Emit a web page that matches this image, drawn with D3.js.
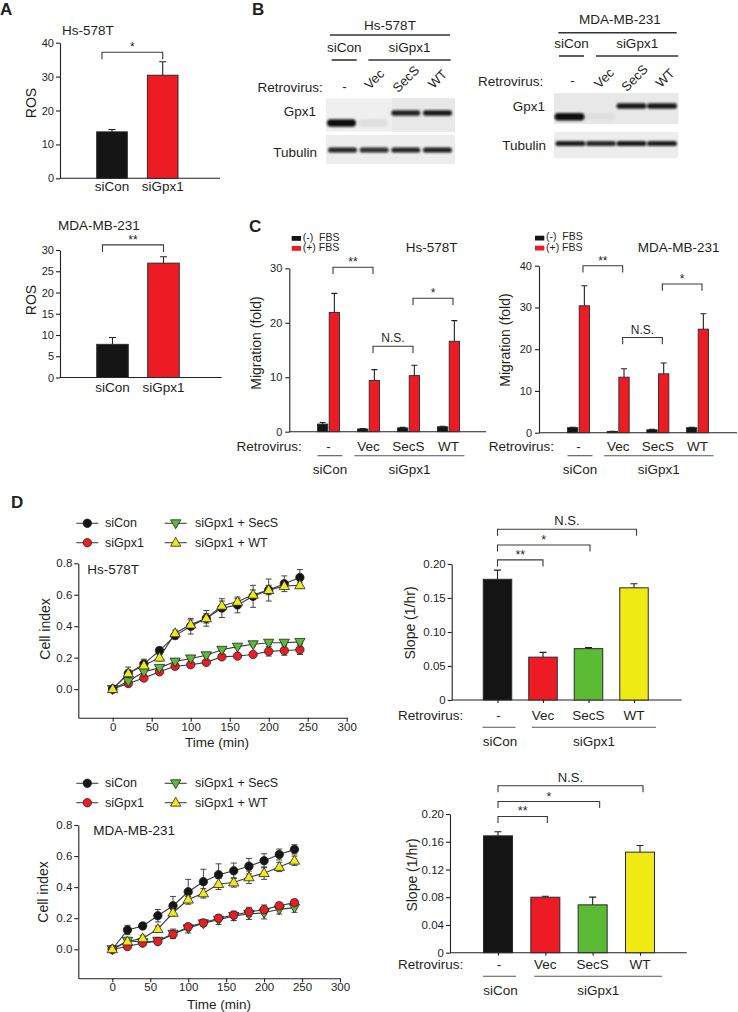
<!DOCTYPE html>
<html><head><meta charset="utf-8">
<script src="https://cdn.jsdelivr.net/npm/d3@7"></script>
<style>
body{margin:0;background:#fff;}
svg{display:block;font-family:"Liberation Sans",Arial,Helvetica,sans-serif;}
</style></head><body>
<svg id="fig" width="738" height="1012"></svg>
<script>
// ================= DATA =================
// Panel A: ROS
const rosCats = ["siCon", "siGpx1"];
const rosHs = [13.7, 30.4];
const rosHsErr = [0.7, 4.0];
const rosMda = [7.8, 26.9];
const rosMdaErr = [1.6, 1.5];
const rosHsTicks = [0, 10, 20, 30, 40];
const rosMdaTicks = [0, 5, 10, 15, 20, 25, 30];

// Panel B: western blots (relative band intensity per lane)
const laneLabels = ["-", "Vec", "SecS", "WT"];
const gpx1Form = ["endo", "endo", "exo", "exo"];
const gpx1Hs = [1.0, 0.07, 0.9, 0.95];
const tubHs = [0.9, 0.85, 0.9, 0.92];
const gpx1Mda = [1.0, 0.04, 0.95, 0.95];
const tubMda = [0.92, 0.88, 0.95, 0.92];

// Panel C: migration
const migGroups = ["-", "Vec", "SecS", "WT"];
const migHsNeg = [1.4, 0.5, 0.7, 0.9];
const migHsNegErr = [0.3, 0.1, 0.1, 0.1];
const migHsPos = [21.9, 9.4, 10.3, 16.6];
const migHsPosErr = [3.5, 2.0, 1.9, 3.8];
const migMdaNeg = [1.2, 0.3, 0.7, 1.2];
const migMdaNegErr = [0.1, 0.05, 0.1, 0.1];
const migMdaPos = [30.4, 13.3, 14.1, 24.8];
const migMdaPosErr = [4.8, 2.0, 2.6, 3.7];
const migHsTicks = [0, 10, 20, 30];
const migMdaTicks = [0, 10, 20, 30, 40];

// Panel D: cell index time course
const timePts = [0, 20, 40, 60, 80, 100, 120, 140, 160, 180, 200, 220, 240];
const lineXTicks = [0, 50, 100, 150, 200, 250, 300];
const lineYTicks = [0, 0.2, 0.4, 0.6, 0.8];
const seriesNames = ["siCon", "siGpx1", "siGpx1 + SecS", "siGpx1 + WT"];

const hsSiCon     = [0, 0.10, 0.16, 0.245, 0.34, 0.40, 0.45, 0.515, 0.535, 0.59, 0.63, 0.67, 0.71];
const hsSiConErr  = [0, 0.04, 0.03, 0.02, 0.02, 0.05, 0.05, 0.06, 0.05, 0.07, 0.07, 0.05, 0.05];
const hsSiGpx1    = [0, 0.035, 0.07, 0.11, 0.145, 0.155, 0.17, 0.205, 0.21, 0.22, 0.24, 0.245, 0.25];
const hsSiGpx1Err = [0, 0.01, 0.01, 0.01, 0.01, 0.01, 0.01, 0.01, 0.01, 0.015, 0.03, 0.03, 0.03];
const hsSecS      = [0, 0.05, 0.11, 0.135, 0.175, 0.195, 0.215, 0.25, 0.27, 0.285, 0.295, 0.295, 0.30];
const hsSecSErr   = [0, 0.01, 0.02, 0.01, 0.01, 0.01, 0.01, 0.01, 0.01, 0.01, 0.01, 0.01, 0.01];
const hsWT        = [0, 0.10, 0.15, 0.20, 0.355, 0.41, 0.45, 0.53, 0.555, 0.60, 0.63, 0.655, 0.66];
const hsWTErr     = [0, 0.02, 0.02, 0.02, 0.02, 0.03, 0.03, 0.03, 0.02, 0.03, 0.03, 0.02, 0.02];

const mdaSiCon     = [0, 0.124, 0.15, 0.216, 0.28, 0.37, 0.435, 0.48, 0.505, 0.535, 0.57, 0.61, 0.643];
const mdaSiConErr  = [0, 0.03, 0.02, 0.04, 0.06, 0.08, 0.08, 0.07, 0.05, 0.05, 0.045, 0.035, 0.03];
const mdaSiGpx1    = [0, 0.018, 0.04, 0.05, 0.095, 0.145, 0.17, 0.20, 0.22, 0.24, 0.255, 0.28, 0.30];
const mdaSiGpx1Err = [0, 0.01, 0.01, 0.02, 0.02, 0.02, 0.02, 0.02, 0.02, 0.03, 0.03, 0.02, 0.02];
const mdaSecS      = [0, 0.055, 0.045, 0.055, 0.10, 0.135, 0.167, 0.19, 0.215, 0.227, 0.235, 0.257, 0.268];
const mdaSecSErr   = [0, 0.01, 0.01, 0.02, 0.03, 0.03, 0.02, 0.03, 0.03, 0.035, 0.04, 0.03, 0.03];
const mdaWT        = [0, 0.05, 0.07, 0.13, 0.235, 0.32, 0.36, 0.42, 0.43, 0.463, 0.49, 0.53, 0.57];
const mdaWTErr     = [0, 0.02, 0.02, 0.02, 0.02, 0.02, 0.03, 0.035, 0.03, 0.04, 0.04, 0.03, 0.03];

// Panel D: slopes
const slopeCats = ["-", "Vec", "SecS", "WT"];
const slopeHs = [0.1775, 0.063, 0.0755, 0.165];
const slopeHsErr = [0.0135, 0.007, 0.0015, 0.006];
const slopeMda = [0.1685, 0.080, 0.069, 0.145];
const slopeMdaErr = [0.006, 0.0015, 0.0112, 0.0095];
const slopeHsTicks = [0, 0.05, 0.10, 0.15, 0.20];
const slopeMdaTicks = [0, 0.04, 0.08, 0.12, 0.16, 0.20];

// ================= STYLE =================
const INK = "#231f20";
const FONT = '"Liberation Sans", Arial, Helvetica, sans-serif';
const BLACK = "#141414", RED = "#ed1c24", GREEN = "#5cbb34", YELLOW = "#f0ea14";
const seriesColors = [BLACK, RED, GREEN, YELLOW];
const seriesSymbols = ["circle", "circle", "down", "up"];

const svg = d3.select("#fig");
svg.append("rect").attr("width", 738).attr("height", 1012).attr("fill", "#fff");
const defs = svg.append("defs");
defs.append("filter").attr("id", "blur").attr("x", "-20%").attr("y", "-60%").attr("width", "140%").attr("height", "220%")
  .append("feGaussianBlur").attr("stdDeviation", 1.1);

function txt(g, x, y, s, size, anchor, weight) {
  return g.append("text").attr("x", x).attr("y", y).text(s)
    .attr("font-size", size || 13).attr("text-anchor", anchor || "start")
    .attr("font-weight", weight || null).attr("fill", INK).style("white-space", "pre");
}
function vtitle(g, cx, cy, s, size) {
  g.append("text").attr("transform", `translate(${cx},${cy}) rotate(-90)`)
    .attr("text-anchor", "middle").attr("dy", "0.35em").attr("font-size", size || 13.5)
    .attr("fill", INK).text(s);
}
function styleAxis(ax, size) {
  ax.attr("font-family", FONT).attr("font-size", size || 11);
  ax.selectAll("path,line").attr("stroke", INK).attr("stroke-width", 1.1);
  ax.selectAll("text").attr("fill", INK);
}
function hline(g, x1, x2, y, w, col) {
  g.append("line").attr("x1", x1).attr("x2", x2).attr("y1", y).attr("y2", y)
    .attr("stroke", col || INK).attr("stroke-width", w || 1.1);
}
function errUp(g, x, yv, ye, cap) {
  g.append("path").attr("d", `M${x},${yv}V${ye}M${x - cap / 2},${ye}H${x + cap / 2}`)
    .attr("stroke", INK).attr("stroke-width", 1.1).attr("fill", "none");
}
function bracket(g, x1, x2, y, drop, label, stars, size) {
  g.append("path").attr("d", `M${x1},${y + drop}V${y}H${x2}V${y + drop}`)
    .attr("fill", "none").attr("stroke", "#3a3a3a").attr("stroke-width", 1.1);
  txt(g, (x1 + x2) / 2, stars ? y - 1 : y - 4, label, size || (stars ? 12 : 12), "middle");
}

// ================= PANEL LABELS =================
txt(svg, 0, 15, "A", 17, "start", "bold");
txt(svg, 252, 15, "B", 17, "start", "bold");
txt(svg, 249, 232, "C", 17, "start", "bold");
txt(svg, 11, 508, "D", 17, "start", "bold");

// ================= PANEL A =================
function rosPanel(cfg) {
  const g = svg.append("g");
  const y = d3.scaleLinear().domain([0, d3.max(cfg.ticks)]).range([cfg.y0, cfg.yTop]);
  const x = d3.scalePoint().domain(rosCats).range(cfg.centers);
  const ax = g.append("g").attr("transform", `translate(${cfg.axisX},0)`)
    .call(d3.axisLeft(y).tickValues(cfg.ticks).tickFormat(d3.format("d")).tickSize(4).tickSizeOuter(0).tickPadding(2));
  styleAxis(ax, 11);
  hline(g, cfg.axisX, cfg.axisEnd, cfg.y0);
  const cols = [BLACK, RED];
  rosCats.forEach((c, i) => {
    g.append("rect").attr("x", x(c) - cfg.bw / 2).attr("width", cfg.bw)
      .attr("y", y(cfg.vals[i])).attr("height", y(0) - y(cfg.vals[i]))
      .attr("fill", cols[i]).attr("stroke", "#2a2a2a").attr("stroke-width", 1);
    errUp(g, x(c), y(cfg.vals[i]), y(cfg.vals[i] + cfg.errs[i]), 7);
    txt(g, x(c), cfg.labelY, c, 13.5, "middle");
  });
  bracket(g, x(rosCats[0]) - 10, x(rosCats[1]), y(cfg.sigLevel), 7, cfg.sig, true);
  txt(g, cfg.titleX, cfg.titleY, cfg.title, 13.5);
  vtitle(g, 31.5, cfg.yTitle, "ROS", 14);
}
rosPanel({ vals: rosHs, errs: rosHsErr, ticks: rosHsTicks, y0: 178.3, yTop: 42.7, axisX: 60, axisEnd: 220,
  centers: [112, 162.7], bw: 30.6, labelY: 191, sigLevel: 37.2, sig: "*", title: "Hs-578T", titleX: 62, titleY: 35, yTitle: 103 });
rosPanel({ vals: rosMda, errs: rosMdaErr, ticks: rosMdaTicks, y0: 377.5, yTop: 250, axisX: 60, axisEnd: 221.7,
  centers: [112.5, 163.5], bw: 31.5, labelY: 392, sigLevel: 31.2, sig: "**", title: "MDA-MB-231", titleX: 58, titleY: 230, yTitle: 300 });

// ================= PANEL B =================
function blotPanel(cfg) {
  const g = svg.append("g");
  const lane = d3.scalePoint().domain(laneLabels).range(cfg.laneRange);
  txt(g, cfg.cellX, cfg.cellY, cfg.cell, 13.5, "middle");
  hline(g, cfg.cellLine[0], cfg.cellLine[1], cfg.cellLine[2], 1.6, "#333");
  txt(g, (cfg.conLine[0] + cfg.conLine[1]) / 2, cfg.grpY, "siCon", 13.5, "middle");
  txt(g, (cfg.gpxLine[0] + cfg.gpxLine[1]) / 2, cfg.grpY, "siGpx1", 13.5, "middle");
  hline(g, cfg.conLine[0], cfg.conLine[1], cfg.grpLineY, 1.6, "#333");
  hline(g, cfg.gpxLine[0], cfg.gpxLine[1], cfg.grpLineY, 1.6, "#333");
  txt(g, cfg.retroX, cfg.retroY, "Retrovirus:", 13.5, "end");
  laneLabels.forEach((l, i) => {
    if (i === 0) txt(g, lane(l) + 2, cfg.retroY - 1, l, 13.5, "middle");
    else g.append("text").attr("transform", `translate(${lane(l) + cfg.rotShift},${cfg.rotY}) rotate(-45)`)
      .attr("text-anchor", "middle").attr("dy", "0.35em").attr("font-size", 13).attr("fill", INK).text(l);
  });
  // blot boxes
  const bx = cfg.box;
  g.append("rect").attr("x", bx[0]).attr("width", bx[1] - bx[0]).attr("y", cfg.gpxBox[0]).attr("height", cfg.gpxBox[1] - cfg.gpxBox[0]).attr("fill", "#efefef");
  g.append("rect").attr("x", cfg.split).attr("width", bx[1] - cfg.split).attr("y", cfg.gpxBox[0]).attr("height", cfg.gpxBox[1] - cfg.gpxBox[0]).attr("fill", "#e8e8e8");
  g.append("rect").attr("x", bx[0]).attr("width", bx[1] - bx[0]).attr("y", cfg.tubBox[0]).attr("height", cfg.tubBox[1] - cfg.tubBox[0]).attr("fill", "#ededed");
  const bw = cfg.bandW;
  cfg.gpx.forEach((v, i) => {
    const endo = gpx1Form[i] === "endo";
    const yc = endo ? cfg.endoY : cfg.exoY;
    const h = endo ? 7.5 : 5.5;
    g.append("rect").attr("x", lane(laneLabels[i]) - bw / 2 + (endo ? -1 : 0)).attr("width", bw)
      .attr("y", yc - h / 2).attr("height", h).attr("rx", h / 2)
      .attr("fill", "#0a0a0a").attr("opacity", v).attr("filter", "url(#blur)");
  });
  cfg.tub.forEach((v, i) => {
    g.append("rect").attr("x", lane(laneLabels[i]) - bw / 2).attr("width", bw)
      .attr("y", cfg.tubY - 2.6).attr("height", 5.2).attr("rx", 2.6)
      .attr("fill", "#0a0a0a").attr("opacity", v).attr("filter", "url(#blur)");
  });
  txt(g, cfg.labX, cfg.gpxLabY, "Gpx1", 13.5, "end");
  txt(g, cfg.labX + 1, cfg.tubLabY, "Tubulin", 13.5, "end");
}
blotPanel({ laneRange: [342.5, 437.5], cell: "Hs-578T", cellX: 390, cellY: 30, cellLine: [330, 450, 35],
  conLine: [331.7, 356.7], gpxLine: [368.3, 450.7], grpY: 52, grpLineY: 60, retroX: 322.7, retroY: 92,
  rotShift: 0, rotY: 79, box: [326, 455], split: 392, gpxBox: [98.3, 131.7], tubBox: [135, 164],
  bandW: 29, endoY: 123, exoY: 113, tubY: 150, gpx: gpx1Hs, tub: tubHs, labX: 316, gpxLabY: 116, tubLabY: 157 });
blotPanel({ laneRange: [570.5, 662], cell: "MDA-MB-231", cellX: 620, cellY: 24, cellLine: [558.3, 676.7, 32.7],
  conLine: [559, 584], gpxLine: [596, 678.3], grpY: 48, grpLineY: 56, retroX: 543.3, retroY: 86,
  rotShift: 3, rotY: 78, box: [554, 678.3], split: 554, gpxBox: [93.3, 124], tubBox: [131.7, 158.3],
  bandW: 30, endoY: 116.7, exoY: 106, tubY: 143.5, gpx: gpx1Mda, tub: tubMda, labX: 545, gpxLabY: 111, tubLabY: 150 });

// ================= PANEL C =================
function migPanel(cfg) {
  const g = svg.append("g");
  const y = d3.scaleLinear().domain([0, d3.max(cfg.ticks)]).range([cfg.y0, cfg.yTop]);
  const gx = d3.scalePoint().domain(migGroups).range(cfg.groupRange);
  const sub = d3.scaleBand().domain(["neg", "pos"]).range([-11, 11]).paddingInner(0.12);
  const ax = g.append("g").attr("transform", `translate(${cfg.axisX},0)`)
    .call(d3.axisLeft(y).tickValues(cfg.ticks).tickFormat(d3.format("d")).tickSize(4).tickSizeOuter(0).tickPadding(3));
  styleAxis(ax, 11);
  hline(g, cfg.axisX, cfg.axisEnd, cfg.y0);
  migGroups.forEach((grp, i) => {
    [["neg", cfg.neg, cfg.negErr, BLACK], ["pos", cfg.pos, cfg.posErr, RED]].forEach(([k, vals, errs, col]) => {
      const x0 = gx(grp) + sub(k);
      g.append("rect").attr("x", x0).attr("width", sub.bandwidth())
        .attr("y", y(vals[i])).attr("height", y(0) - y(vals[i]))
        .attr("fill", col).attr("stroke", "#2a2a2a").attr("stroke-width", 0.9);
      errUp(g, x0 + sub.bandwidth() / 2, y(vals[i]), y(vals[i] + errs[i]), 6);
    });
    txt(g, gx(grp), 450.5, grp, 13.5, "middle");
  });
  cfg.sigs.forEach(s => bracket(g, gx(s[0]) + 4.5, gx(s[1]) + 4.5, y(s[2]), 6.7, s[3], s[3] !== "N.S.", s[3] === "N.S." ? 12 : 12));
  txt(g, cfg.retroX, 450.5, "Retrovirus:", 13.5, "end");
  const first = gx(migGroups[0]), second = gx(migGroups[1]), last = gx(migGroups[3]);
  hline(g, first - 11, first + 14, 455.7, 1.1, "#555");
  hline(g, second - 14, last + 16, 455.7, 1.1, "#555");
  txt(g, first + 1.5, 474, "siCon", 13.5, "middle");
  txt(g, (second - 14 + last + 16) / 2, 474, "siGpx1", 13.5, "middle");
  // legend
  const lg = cfg.legend;
  g.append("rect").attr("x", lg[0]).attr("y", lg[1]).attr("width", 9.3).attr("height", 4.8).attr("fill", BLACK);
  g.append("rect").attr("x", lg[0]).attr("y", lg[1] + 10).attr("width", 9.3).attr("height", 4.8).attr("fill", RED);
  txt(g, lg[0] + 11, lg[1] + 4.6, "(-)  FBS", 10.5);
  txt(g, lg[0] + 11, lg[1] + 15, "(+) FBS", 10.5);
  txt(g, cfg.titleX, 251.5, cfg.title, 13.5);
  vtitle(g, cfg.yTitleX, cfg.yTitleY, "Migration (fold)", 14);
}
migPanel({ neg: migHsNeg, negErr: migHsNegErr, pos: migHsPos, posErr: migHsPosErr, ticks: migHsTicks,
  y0: 431.7, yTop: 268.3, axisX: 289.3, axisEnd: 486, groupRange: [328.5, 448.5], retroX: 301.7,
  sigs: [["-", "Vec", 30.2, "**"], ["Vec", "SecS", 15.7, "N.S."], ["SecS", "WT", 24.5, "*"]],
  legend: [291.7, 236], title: "Hs-578T", titleX: 405.7, yTitleX: 256, yTitleY: 343 });
migPanel({ neg: migMdaNeg, negErr: migMdaNegErr, pos: migMdaPos, posErr: migMdaPosErr, ticks: migMdaTicks,
  y0: 432.7, yTop: 265.7, axisX: 539, axisEnd: 737, groupRange: [578.5, 697.5], retroX: 554,
  sigs: [["-", "Vec", 40.0, "**"], ["Vec", "SecS", 22.8, "N.S."], ["SecS", "WT", 35.6, "*"]],
  legend: [535, 235.7], title: "MDA-MB-231", titleX: 637.7, yTitleX: 505, yTitleY: 340 });

// ================= PANEL D: line charts =================
function marker(g, type, x, y, col) {
  if (type === "circle") {
    g.append("circle").attr("cx", x).attr("cy", y).attr("r", 4.2).attr("fill", col).attr("stroke", "#222").attr("stroke-width", 0.8);
  } else {
    g.append("path").attr("d", d3.symbol(d3.symbolTriangle, 46)())
      .attr("transform", `translate(${x},${y + (type === "down" ? -0.5 : 0.5)}) rotate(${type === "down" ? 180 : 0})`)
      .attr("fill", col).attr("stroke", "#222").attr("stroke-width", 0.8);
  }
}
function linePanel(cfg) {
  const g = svg.append("g");
  const x = d3.scaleLinear().domain(cfg.xDom).range(cfg.xRange);
  const y = d3.scaleLinear().domain(cfg.yDom).range(cfg.yRange);
  const ya = g.append("g").attr("transform", `translate(${cfg.xRange[0]},0)`)
    .call(d3.axisLeft(y).tickValues(lineYTicks).tickFormat(d3.format(".1f")).tickSize(4).tickSizeOuter(0).tickPadding(2));
  styleAxis(ya, 11.5);
  const xa = g.append("g").attr("transform", `translate(0,${cfg.yRange[0]})`)
    .call(d3.axisBottom(x).tickValues(lineXTicks).tickFormat(d3.format("d")).tickSize(4).tickSizeOuter(0).tickPadding(1));
  styleAxis(xa, 11.5);
  const line = d3.line().x((d, i) => x(timePts[i])).y(d => y(d));
  cfg.series.forEach(s => {
    g.append("path").datum(s[0]).attr("d", line).attr("fill", "none").attr("stroke", "#3a3a3a").attr("stroke-width", 1.1);
  });
  cfg.series.forEach(s => {
    s[0].forEach((v, i) => {
      if (s[1][i] <= 0) return;
      const xx = x(timePts[i]), y1 = y(v - s[1][i]), y2 = y(v + s[1][i]);
      g.append("path").attr("d", `M${xx},${y1}V${y2}M${xx - 3},${y1}H${xx + 3}M${xx - 3},${y2}H${xx + 3}`)
        .attr("stroke", "#444").attr("stroke-width", 1).attr("fill", "none");
    });
  });
  cfg.order.forEach(k => {
    const s = cfg.series[k];
    s[0].forEach((v, i) => marker(g, seriesSymbols[k], x(timePts[i]), y(v), seriesColors[k]));
  });
  // legend
  const L = cfg.legend; // [row1 y, row2 y]
  const cols = [[87.3, 105], [175.7, 195]];
  seriesNames.forEach((n, k) => {
    const c = cols[Math.floor(k / 2)], ry = L[k % 2];
    hline(g, c[0] - 11, c[0] + 11, ry, 1.1, "#444");
    marker(g, seriesSymbols[k], c[0], ry, seriesColors[k]);
    txt(g, c[1], ry + 4, n, 12.5);
  });
  txt(g, cfg.titlePos[0], cfg.titlePos[1], cfg.title, 13.5);
  txt(g, cfg.timePos[0], cfg.timePos[1], "Time (min)", 13.5, "middle");
  vtitle(g, cfg.cellPos[0], cfg.cellPos[1], "Cell index", 14);
}
linePanel({ xDom: [-44.1, 300], xRange: [78.3, 346.7], yDom: [-0.182, 0.8], yRange: [717.7, 563.3],
  series: [[hsSiCon, hsSiConErr], [hsSiGpx1, hsSiGpx1Err], [hsSecS, hsSecSErr], [hsWT, hsWTErr]],
  order: [1, 2, 0, 3], legend: [523.3, 542.7], title: "Hs-578T", titlePos: [87.3, 574],
  timePos: [217, 747], cellPos: [45, 629] });
linePanel({ xDom: [-44.8, 300], xRange: [78.3, 340], yDom: [-0.187, 0.8], yRange: [978.3, 825],
  series: [[mdaSiCon, mdaSiConErr], [mdaSiGpx1, mdaSiGpx1Err], [mdaSecS, mdaSecSErr], [mdaWT, mdaWTErr]],
  order: [0, 2, 1, 3], legend: [783.3, 802.7], title: "MDA-MB-231", titlePos: [93.3, 835],
  timePos: [219, 1009], cellPos: [43, 892] });

// ================= PANEL D: slope bars =================
function slopePanel(cfg) {
  const g = svg.append("g");
  const y = d3.scaleLinear().domain([0, d3.max(cfg.ticks)]).range([cfg.y0, cfg.yTop]);
  const x = d3.scalePoint().domain(slopeCats).range(cfg.centers);
  const fmt = d => d === 0 ? "0" : d3.format(".2f")(d);
  const ax = g.append("g").attr("transform", `translate(${cfg.axisX},0)`)
    .call(d3.axisLeft(y).tickValues(cfg.ticks).tickFormat(fmt).tickSize(4).tickSizeOuter(0).tickPadding(2));
  styleAxis(ax, 11.5);
  const xa = g.append("g").attr("transform", `translate(0,${cfg.y0})`)
    .call(d3.axisBottom(x).tickFormat("").tickSize(3).tickSizeOuter(0));
  xa.select(".domain").remove();
  styleAxis(xa, 11);
  hline(g, cfg.axisX, cfg.axisEnd, cfg.y0);
  const cols = [BLACK, RED, GREEN, YELLOW];
  slopeCats.forEach((c, i) => {
    g.append("rect").attr("x", x(c) - cfg.bw / 2).attr("width", cfg.bw)
      .attr("y", y(cfg.vals[i])).attr("height", y(0) - y(cfg.vals[i]))
      .attr("fill", cols[i]).attr("stroke", "#2a2a2a").attr("stroke-width", 1);
    errUp(g, x(c), y(cfg.vals[i]), y(cfg.vals[i] + cfg.errs[i]), 7);
    txt(g, x(c) + (i === 0 ? 1 : 0), cfg.retroY, c, 13.5, "middle");
  });
  cfg.sigs.forEach(s => bracket(g, x(s[0]), x(s[1]) + s[4], y(s[2]), 6.5, s[3], s[3] !== "N.S.", s[3] === "N.S." ? 13 : 12.5));
  txt(g, 463.3, cfg.retroY, "Retrovirus:", 13.5, "end");
  const c0 = x(slopeCats[0]), c1 = x(slopeCats[1]), c3 = x(slopeCats[3]);
  hline(g, c0 - 15, c0 + 18, cfg.retroY + 7.3, 1.1, "#555");
  hline(g, c1 - 11, c3 + 22, cfg.retroY + 7.3, 1.1, "#555");
  txt(g, c0 + 2.5, cfg.retroY + 25.5, "siCon", 13.5, "middle");
  txt(g, (c1 - 11 + c3 + 22) / 2, cfg.retroY + 25.5, "siGpx1", 13.5, "middle");
  vtitle(g, cfg.yTitle[0], cfg.yTitle[1], "Slope (1/hr)", 14);
}
slopePanel({ vals: slopeHs, errs: slopeHsErr, ticks: slopeHsTicks, y0: 700, yTop: 564, axisX: 451.7, axisEnd: 681.7,
  centers: [497.5, 634], bw: 28.5, retroY: 720,
  sigs: [["-", "Vec", 0.206, "**", 0], ["-", "SecS", 0.228, "*", 1.5], ["-", "WT", 0.251, "N.S.", 2.5]],
  yTitle: [410, 623] });
slopePanel({ vals: slopeMda, errs: slopeMdaErr, ticks: slopeMdaTicks, y0: 952.7, yTop: 814, axisX: 450, axisEnd: 686.7,
  centers: [498, 640], bw: 29, retroY: 969,
  sigs: [["-", "Vec", 0.1964, "**", 2], ["-", "SecS", 0.218, "*", 7], ["-", "WT", 0.2407, "N.S.", 3]],
  yTitle: [412.5, 875] });
</script>
</body></html>
